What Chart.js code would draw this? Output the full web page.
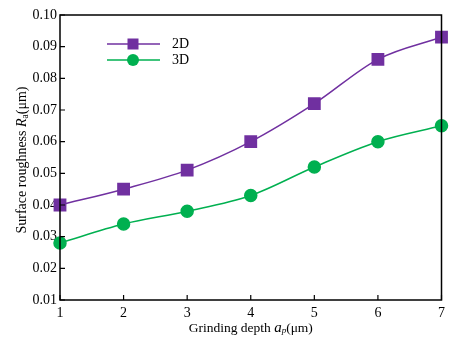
<!DOCTYPE html>
<html>
<head>
<meta charset="utf-8">
<script src="https://cdn.jsdelivr.net/npm/chart.js@4.4.1/dist/chart.umd.min.js"></script>
<style>
    html, body { margin: 0; padding: 0; background: #fff; }
    #contenedor { width: 451px; height: 339px; }
</style>
</head>
<body>
<div id="contenedor"><canvas id="myChart"></canvas></div>
<script>
// datos
const profundidad = [1, 2, 3, 4, 5, 6, 7];
const rugosidad2D = [0.040, 0.045, 0.051, 0.060, 0.072, 0.086, 0.093];
const rugosidad3D = [0.028, 0.034, 0.038, 0.043, 0.052, 0.060, 0.065];
const ticksY = [0.01, 0.02, 0.03, 0.04, 0.05, 0.06, 0.07, 0.08, 0.09, 0.10];
const etiquetas = ['2D', '3D'];

const morado = '#7030A0';
const verde = '#00B050';
const fuente = '"Liberation Serif", "Times New Roman", serif';

//funcion para escribir texto con partes en cursiva y subindice
function textoMixto(ctx, partes, x, y) {
    let ancho = 0;
    partes.forEach(p => {
        ctx.font = (p.italic ? 'italic ' : '') + p.size + 'px ' + fuente;
        p.w = ctx.measureText(p.t).width;
        ancho += p.w;
    });
    let px = x - ancho / 2;
    partes.forEach(p => {
        ctx.font = (p.italic ? 'italic ' : '') + p.size + 'px ' + fuente;
        ctx.fillText(p.t, px, y + (p.dy || 0));
        px += p.w;
    });
}

// plugin para el marco, las marcas interiores, titulos y leyenda
const extras = {
    id: 'extras',
    afterDraw(chart) {
        const ctx = chart.ctx;
        const area = chart.chartArea;
        const sx = chart.scales.x;
        const sy = chart.scales.y;
        ctx.save();
        ctx.strokeStyle = '#000';
        ctx.lineWidth = 1.5;
        ctx.strokeRect(area.left, area.top, area.right - area.left, area.bottom - area.top);

        // marcas hacia adentro
        ctx.lineWidth = 1.2;
        ctx.beginPath();
        ticksY.forEach(v => {
            const y = sy.getPixelForValue(v);
            ctx.moveTo(area.left, y);
            ctx.lineTo(area.left + 5, y);
        });
        profundidad.forEach(v => {
            const x = sx.getPixelForValue(v);
            ctx.moveTo(x, area.bottom);
            ctx.lineTo(x, area.bottom - 5);
        });
        ctx.stroke();

        // titulos
        ctx.fillStyle = '#000';
        ctx.textBaseline = 'middle';
        ctx.textAlign = 'left';
        textoMixto(ctx, [
            { t: 'Grinding depth ', size: 13.5 },
            { t: 'a', size: 15, italic: true },
            { t: 'p', size: 9, italic: true, dy: 3 },
            { t: '(\u03bcm)', size: 13.5 }
        ], (area.left + area.right) / 2, 328);

        ctx.save();
        ctx.translate(22, 160);
        ctx.rotate(-Math.PI / 2);
        textoMixto(ctx, [
            { t: 'Surface roughness ', size: 14 },
            { t: 'R', size: 14, italic: true },
            { t: 'a', size: 9.5, dy: 3 },
            { t: '(\u03bcm)', size: 14 }
        ], 0, 0);
        ctx.restore();

        // leyenda
        chart.data.datasets.forEach((ds, i) => {
            const y = 44 + i * 16;
            ctx.strokeStyle = ds.borderColor;
            ctx.lineWidth = 1.5;
            ctx.beginPath();
            ctx.moveTo(107, y);
            ctx.lineTo(160, y);
            ctx.stroke();
            ctx.fillStyle = ds.pointBackgroundColor;
            if (ds.pointStyle === 'rect') {
                ctx.fillRect(127.5, y - 5.5, 11, 11);
            } else {
                ctx.beginPath();
                ctx.arc(133, y, 6, 0, Math.PI * 2);
                ctx.fill();
            }
            ctx.fillStyle = '#000';
            ctx.font = '14px ' + fuente;
            ctx.fillText(etiquetas[i], 172, y);
        });
        ctx.restore();
    }
};

const datos = {
    datasets: [{
        label: etiquetas[0],
        data: profundidad.map((x, i) => ({ x: x, y: rugosidad2D[i] })),
        borderColor: morado,
        backgroundColor: morado,
        pointBackgroundColor: morado,
        pointBorderColor: morado,
        pointStyle: 'rect',
        pointRadius: 8,
        borderWidth: 1.5,
        cubicInterpolationMode: 'monotone',
        clip: false
    }, {
        label: etiquetas[1],
        data: profundidad.map((x, i) => ({ x: x, y: rugosidad3D[i] })),
        borderColor: verde,
        backgroundColor: verde,
        pointBackgroundColor: verde,
        pointBorderColor: verde,
        pointStyle: 'circle',
        pointRadius: 6,
        borderWidth: 1.5,
        cubicInterpolationMode: 'monotone',
        clip: false
    }]
};

const config = {
    type: 'line',
    data: datos,
    options: {
        responsive: true,
        maintainAspectRatio: false,
        animation: false,
        layout: { padding: { top: 15, right: 5, left: 0, bottom: 0 } },
        plugins: {
            legend: { display: false },
            tooltip: { enabled: false }
        },
        scales: {
            x: {
                type: 'linear',
                min: 1,
                max: 7,
                afterBuildTicks: s => { s.ticks = profundidad.map(v => ({ value: v })); },
                afterFit: s => { s.height = 39; },
                grid: { drawOnChartArea: false, drawTicks: false, color: 'rgba(0,0,0,0)' },
                border: { display: false },
                ticks: {
                    color: '#000',
                    padding: 5,
                    font: { family: fuente, size: 14 },
                    maxRotation: 0
                }
            },
            y: {
                type: 'linear',
                min: 0.01,
                max: 0.10,
                afterBuildTicks: s => { s.ticks = ticksY.map(v => ({ value: v })); },
                afterFit: s => { s.width = 60; },
                grid: { drawOnChartArea: false, drawTicks: false, color: 'rgba(0,0,0,0)' },
                border: { display: false },
                ticks: {
                    color: '#000',
                    padding: 3,
                    font: { family: fuente, size: 14 },
                    callback: v => v.toFixed(2)
                }
            }
        }
    },
    plugins: [extras]
};

const ctx = document.getElementById('myChart').getContext('2d');
new Chart(ctx, config);
</script>
</body>
</html>
